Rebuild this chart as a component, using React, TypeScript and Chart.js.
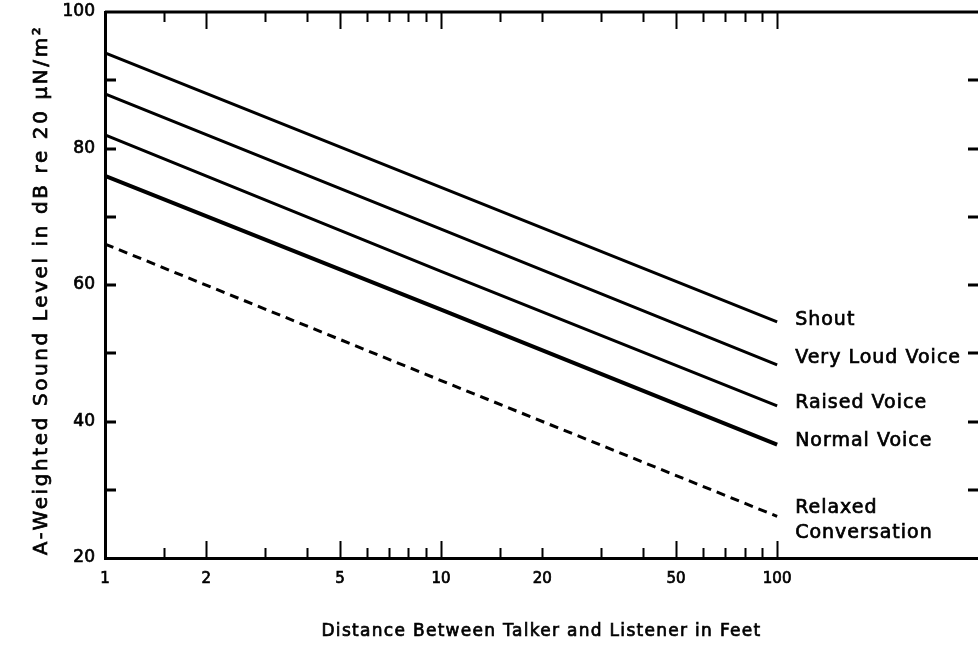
import React, { useEffect, useRef } from "react";
import { Chart, registerables } from "chart.js";

Chart.register(...registerables);

// ---- data ----
const distances = [1, 10, 100];
const shout = [94, 74.3, 54.6];
const veryLoud = [88, 68.2, 48.3];
const raised = [82, 62, 42.3];
const normal = [76, 56.4, 36.6];
const relaxed = [66, 46, 26.1];

const seriesNames = ["Shout", "Very Loud Voice", "Raised Voice", "Normal Voice", "Relaxed Conversation"];
const xTickValues = [1, 1.5, 2, 3, 4, 5, 6, 7, 8, 9, 10, 15, 20, 30, 40, 50, 60, 70, 80, 90, 100];
const xLabelValues = [1, 2, 5, 10, 20, 50, 100];
const xLongTicks = [2, 5, 10, 50, 100];
const yTickValues = [20, 30, 40, 50, 60, 70, 80, 90, 100];
const yLabelValues = [20, 40, 60, 80, 100];
const xTitle = "Distance Between Talker and Listener in Feet";
const yTitle = "A-Weighted Sound Level in dB re 20 μN/m²";

const FONT = "'DejaVu Sans', sans-serif";

// label lines drawn to the right of each curve's end (text lines, vertical nudge in px)
const endLabels: { lines: string[]; dy: number }[] = [
  { lines: ["Shout"], dy: -2 },
  { lines: ["Very Loud Voice"], dy: -7 },
  { lines: ["Raised Voice"], dy: -3 },
  { lines: ["Normal Voice"], dy: -4 },
  { lines: ["Relaxed", "Conversation"], dy: -8 },
];

function heavyText(ctx: CanvasRenderingContext2D, t: string, x: number, y: number) {
  ctx.fillText(t, x, y);
  ctx.strokeText(t, x, y);
}

const framePlugin = {
  id: "framePlugin",
  afterDraw(chart: any) {
    const { ctx, chartArea: a, scales } = chart;
    const x = scales.x;
    const y = scales.y;
    ctx.save();
    ctx.strokeStyle = "#000";
    ctx.lineCap = "butt";
    // top frame line
    ctx.lineWidth = 3;
    ctx.beginPath();
    ctx.moveTo(a.left, a.top);
    ctx.lineTo(a.right, a.top);
    ctx.stroke();
    // inward x ticks (bottom and top)
    ctx.lineWidth = 2;
    xTickValues.forEach((v) => {
      const px = Math.round(x.getPixelForValue(v)) + 0.5;
      const len = xLongTicks.includes(v) ? 17 : 10;
      ctx.beginPath();
      ctx.moveTo(px, a.bottom);
      ctx.lineTo(px, a.bottom - len);
      ctx.moveTo(px, a.top);
      ctx.lineTo(px, a.top + len);
      ctx.stroke();
    });
    // inward y ticks (left and right)
    ctx.lineWidth = 3;
    yTickValues.forEach((v) => {
      if (v === 20 || v === 100) return;
      const py = Math.round(y.getPixelForValue(v));
      ctx.beginPath();
      ctx.moveTo(a.left, py);
      ctx.lineTo(a.left + 11, py);
      ctx.moveTo(a.right, py);
      ctx.lineTo(a.right - 10, py);
      ctx.stroke();
    });
    // curve labels
    ctx.fillStyle = "#000";
    ctx.lineWidth = 0.7;
    ctx.font = `19px ${FONT}`;
    (ctx as any).letterSpacing = "1px";
    ctx.textAlign = "left";
    ctx.textBaseline = "middle";
    chart.data.datasets.forEach((ds: any, i: number) => {
      const last = ds.data[ds.data.length - 1];
      const px = x.getPixelForValue(last.x) + 18;
      const py = y.getPixelForValue(last.y) + endLabels[i].dy;
      endLabels[i].lines.forEach((t, j) => heavyText(ctx, t, px, py + j * 25));
    });
    // axis titles
    ctx.textAlign = "center";
    ctx.font = `17px ${FONT}`;
    (ctx as any).letterSpacing = "1.3px";
    heavyText(ctx, xTitle, (a.left + a.right) / 2, 632);
    ctx.save();
    ctx.translate(42, 290);
    ctx.rotate(-Math.PI / 2);
    ctx.font = `20px ${FONT}`;
    (ctx as any).letterSpacing = "2.6px";
    heavyText(ctx, yTitle, 0, 0);
    ctx.restore();
    (ctx as any).letterSpacing = "0px";
    ctx.restore();
  },
};

export default function App() {
  const ref = useRef<HTMLCanvasElement>(null);
  useEffect(() => {
    const series = [shout, veryLoud, raised, normal, relaxed];
    const widths = [3, 3, 3, 4, 3];
    const chart = new Chart(ref.current!, {
      type: "line",
      data: {
        datasets: series.map((s, i) => ({
          label: seriesNames[i],
          data: distances.map((d, k) => ({ x: d, y: s[k] })),
          borderColor: "#000",
          borderWidth: widths[i],
          borderDash: i === 4 ? [9, 6] : [],
          pointRadius: 0,
          tension: 0,
          fill: false,
        })),
      },
      options: {
        animation: false,
        responsive: false,
        devicePixelRatio: 1,
        layout: { padding: { top: 12, left: 0, right: 0, bottom: 0 } },
        plugins: { legend: { display: false }, tooltip: { enabled: false } },
        scales: {
          x: {
            type: "logarithmic",
            min: 1,
            max: 396,
            afterBuildTicks: (s: any) => {
              s.ticks = xTickValues.map((v) => ({ value: v }));
            },
            afterFit: (s: any) => {
              s.height = 87;
              s.paddingLeft = 0;
              s.paddingRight = 0;
            },
            grid: { display: false },
            border: { display: true, color: "#000", width: 3 },
            ticks: {
              autoSkip: false,
              maxRotation: 0,
              padding: 4,
              color: "#000",
              textStrokeColor: "#000",
              textStrokeWidth: 0.7,
              font: { family: FONT, size: 15 },
              callback: (v: any) => (xLabelValues.includes(Number(v)) ? String(v) : ""),
            },
            title: { display: false },
          },
          y: {
            type: "linear",
            min: 20,
            max: 100,
            afterBuildTicks: (s: any) => {
              s.ticks = yTickValues.map((v) => ({ value: v }));
            },
            afterFit: (s: any) => {
              s.width = 105;
              s.paddingTop = 0;
              s.paddingBottom = 0;
            },
            grid: { display: false },
            border: { display: true, color: "#000", width: 3 },
            ticks: {
              autoSkip: false,
              padding: 2,
              color: "#000",
              textStrokeColor: "#000",
              textStrokeWidth: 0.7,
              font: { family: FONT, size: 17 },
              callback: (v: any) => (yLabelValues.includes(Number(v)) ? String(v) : ""),
            },
            title: { display: false },
          },
        },
      },
      plugins: [framePlugin],
    });
    return () => chart.destroy();
  }, []);
  return (
    <div style={{ position: "absolute", left: 0, top: 0, width: 978, height: 645, background: "#fff" }}>
      <canvas ref={ref} width={978} height={645} style={{ display: "block" }} />
    </div>
  );
}
